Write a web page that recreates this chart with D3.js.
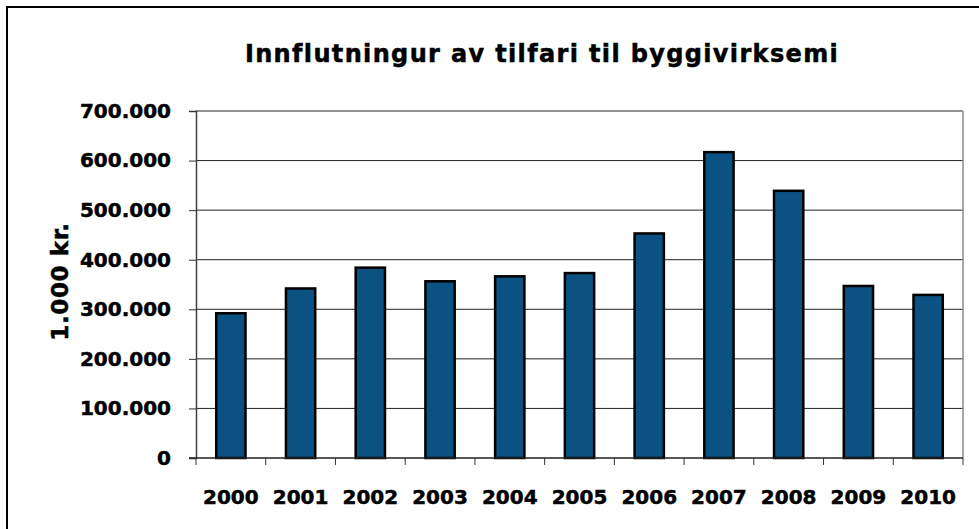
<!DOCTYPE html>
<html>
<head>
<meta charset="utf-8">
<script src="https://cdn.jsdelivr.net/npm/d3@7"></script>
<style>
  body { margin: 0; background: #fff; }
  svg { display: block; font-family: 'DejaVu Sans', Verdana, sans-serif; }
  .heavy { stroke: #000; stroke-width: 0.5px; paint-order: stroke; }
</style>
</head>
<body>
<div id="chart"></div>
<script>
const width = 979;
const height = 529;

const years = ['2000', '2001', '2002', '2003', '2004', '2005', '2006', '2007', '2008', '2009', '2010'];
const values = [292000, 342000, 384000, 356500, 366500, 373000, 453000, 617000, 539000, 347000, 329000];
const yTicks = [0, 100000, 200000, 300000, 400000, 500000, 600000, 700000];

const margin = { left: 196, right: 16, top: 111, bottom: 71 };

const svg = d3
  .select('#chart')
  .append('svg')
  .attr('width', width)
  .attr('height', height);

// Outer chart frame (cut off at right and bottom)
svg
  .append('rect')
  .attr('x', 7)
  .attr('y', 7)
  .attr('width', 1100)
  .attr('height', 700)
  .attr('fill', 'none')
  .attr('stroke', '#000')
  .attr('stroke-width', 2);

const x = d3
  .scaleBand()
  .domain(years)
  .range([margin.left, width - margin.right])
  .paddingInner(0.58)
  .paddingOuter(0.29);

const y = d3
  .scaleLinear()
  .domain([0, 700000])
  .range([height - margin.bottom, margin.top]);

const fmt = (v) => (v === 0 ? '0' : d3.format(',')(v).replace(/,/g, '.'));

// Gridlines
svg
  .selectAll('.grid')
  .data(yTicks.slice(1))
  .enter()
  .append('line')
  .attr('class', 'grid')
  .attr('x1', margin.left)
  .attr('x2', width - margin.right)
  .attr('y1', (d) => y(d))
  .attr('y2', (d) => y(d))
  .attr('stroke', '#222')
  .attr('stroke-width', 1);

// Plot area right border
svg
  .append('line')
  .attr('x1', width - margin.right)
  .attr('x2', width - margin.right)
  .attr('y1', margin.top)
  .attr('y2', height - margin.bottom)
  .attr('stroke', '#8a8a8a')
  .attr('stroke-width', 1.5);

// Bars
svg
  .selectAll('.bar')
  .data(values)
  .enter()
  .append('rect')
  .attr('class', 'bar')
  .attr('x', (d, i) => x(years[i]))
  .attr('y', (d) => y(d))
  .attr('width', x.bandwidth())
  .attr('height', (d) => y(0) - y(d))
  .attr('fill', '#0b5282')
  .attr('stroke', '#000')
  .attr('stroke-width', 2.5);

// Y axis
const yAxis = svg
  .append('g')
  .attr('transform', `translate(${margin.left},0)`)
  .call(d3.axisLeft(y).tickValues(yTicks).tickSize(7).tickFormat(fmt));

yAxis.select('.domain').attr('stroke', '#404040').attr('stroke-width', 1.5);
yAxis.selectAll('.tick line').attr('stroke', '#333');
yAxis
  .selectAll('.tick text')
  .attr('class', 'heavy')
  .attr('x', -25)
  .attr('font-family', "'DejaVu Sans', Verdana, sans-serif")
  .attr('font-size', 20)
  .attr('font-weight', 'bold')
  .attr('fill', '#000');

// X axis with ticks at band boundaries
const xAxis = svg
  .append('g')
  .attr('transform', `translate(0,${y(0)})`);

xAxis
  .append('line')
  .attr('x1', margin.left - 7)
  .attr('x2', width - margin.right)
  .attr('stroke', '#222')
  .attr('stroke-width', 1.5);

const step = x.step();
const boundaries = d3.range(years.length + 1).map((i) => margin.left + i * step);

xAxis
  .selectAll('.xtick')
  .data(boundaries)
  .enter()
  .append('line')
  .attr('class', 'xtick')
  .attr('x1', (d) => d)
  .attr('x2', (d) => d)
  .attr('y1', 0)
  .attr('y2', 7)
  .attr('stroke', '#333');

xAxis
  .selectAll('.xlabel')
  .data(years)
  .enter()
  .append('text')
  .attr('class', 'xlabel heavy')
  .attr('x', (d) => x(d) + x.bandwidth() / 2)
  .attr('y', 46)
  .attr('text-anchor', 'middle')
  .attr('font-size', 20)
  .attr('font-weight', 'bold')
  .text((d) => d);

// Y axis title
svg
  .append('text')
  .attr('class', 'heavy')
  .attr('transform', `translate(68,${(margin.top + height - margin.bottom) / 2 - 3}) rotate(-90)`)
  .attr('text-anchor', 'middle')
  .attr('font-size', 23)
  .attr('font-weight', 'bold')
  .attr('letter-spacing', 0.6)
  .text('1.000 kr.');

// Chart title
svg
  .append('text')
  .attr('class', 'heavy')
  .attr('x', 542)
  .attr('y', 62)
  .attr('text-anchor', 'middle')
  .attr('font-size', 24)
  .attr('font-weight', 'bold')
  .attr('letter-spacing', 1.35)
  .text('Innflutningur av tilfari til byggivirksemi');
</script>
</body>
</html>
